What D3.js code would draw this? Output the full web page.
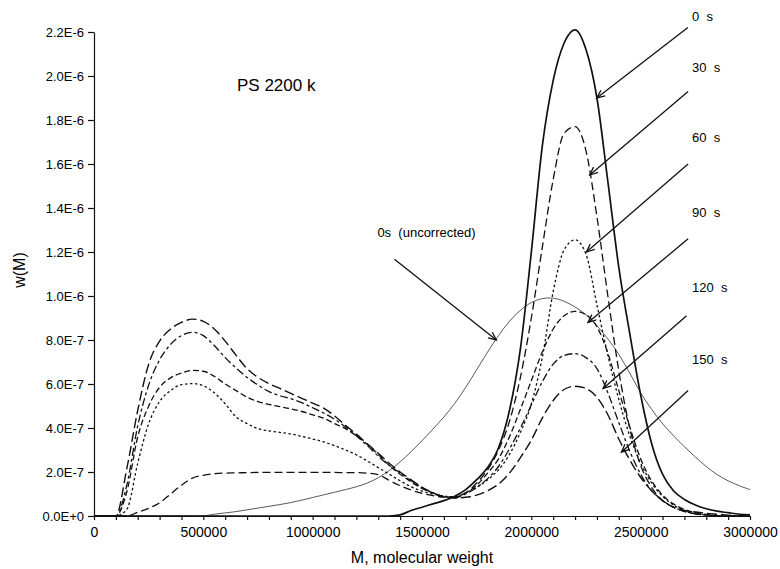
<!DOCTYPE html>
<html>
<head>
<meta charset="utf-8">
<script src="https://cdn.jsdelivr.net/npm/d3@7"></script>
<style>
  html, body { margin: 0; padding: 0; background: #fff; }
  svg text { font-family: "Liberation Sans", Arial, Helvetica, sans-serif; fill: #000; }
</style>
</head>
<body>
<svg id="chart" width="780" height="569"></svg>
<script>
// ---------------- DATA (w values in units of 1e-7) ----------------
const mGrid = [0,50000,100000,150000,200000,250000,300000,350000,400000,450000,
  500000,550000,600000,650000,700000,750000,800000,850000,900000,950000,
  1000000,1050000,1100000,1150000,1200000,1250000,1300000,1350000,1400000,1450000,
  1500000,1550000,1600000,1650000,1700000,1750000,1800000,1850000,1900000,1950000,
  2000000,2050000,2100000,2150000,2200000,2250000,2300000,2350000,2400000,2450000,
  2500000,2550000,2600000,2650000,2700000,2750000,2800000,2850000,2900000,2950000,3000000];

const w0s = [0,0,0,0,0,0,0,0,0,0, 0,0,0,0,0,0,0,0,0,0, 0,0,0,0,0,0,0,0,0.05,0.25,
  0.4,0.55,0.7,0.9,1.2,1.65,2.2,3.1,4.8,7.6, 12.0,16.8,19.8,21.5,22.1,21.2,19.0,15.2,11.3,8.3,
  5.5,3.3,1.9,1.15,0.75,0.5,0.33,0.22,0.15,0.08,0.05];
const w30s = [0,0,0,0,0.17,0.35,0.6,1.0,1.4,1.72, 1.85,1.92,1.95,1.96,1.97,1.98,1.98,1.98,1.98,1.98,
  1.98,1.98,1.98,1.97,1.97,1.95,1.88,1.62,1.38,1.18, 1.03,0.93,0.86,0.88,1.05,1.5,2.1,3.0,4.3,6.3,
  9.0,12.2,15.3,17.4,17.7,16.6,13.6,10.0,6.6,4.0, 2.3,1.3,0.7,0.4,0.2,0.1,0.05,0,0,0,0];
const w60s = [0,0,0,0.3,2.4,4.2,5.2,5.7,5.97,6.02, 5.92,5.6,5.1,4.5,4.2,3.97,3.87,3.8,3.73,3.62,
  3.5,3.37,3.2,3.0,2.78,2.5,2.2,1.9,1.6,1.33, 1.13,1.0,0.9,0.88,1.05,1.3,1.65,2.1,2.8,3.8,
  5.1,7.2,10.2,12.1,12.55,11.9,9.6,7.3,5.3,3.65, 2.4,1.5,0.9,0.5,0.25,0.12,0.05,0,0,0,0];
const w90s = [0,0,0,1.1,3.6,5.0,5.85,6.28,6.5,6.62, 6.58,6.35,6.0,5.7,5.4,5.2,5.07,4.97,4.87,4.75,
  4.6,4.45,4.2,3.97,3.65,3.25,2.8,2.3,1.9,1.55, 1.25,1.05,0.88,0.85,1.05,1.4,1.95,2.6,3.6,4.85,
  6.15,7.45,8.5,9.1,9.3,9.15,8.6,7.4,5.7,4.05, 2.6,1.6,0.95,0.55,0.3,0.15,0.07,0,0,0,0];
const w120s = [0,0,0,1.4,4.1,5.95,7.1,7.8,8.2,8.35, 8.2,7.75,7.2,6.72,6.3,5.95,5.65,5.47,5.33,5.15,
  4.92,4.68,4.4,4.05,3.65,3.2,2.72,2.3,1.95,1.6, 1.3,1.05,0.88,0.82,1.0,1.3,1.7,2.25,3.05,4.0,
  5.05,6.1,6.9,7.3,7.38,7.2,6.7,5.6,4.25,2.95, 1.9,1.15,0.7,0.4,0.22,0.1,0.05,0,0,0,0];
const w150s = [0,0,0,2.15,4.8,6.9,7.95,8.5,8.8,8.95, 8.85,8.5,7.95,7.3,6.7,6.3,6.02,5.8,5.57,5.35,
  5.13,4.9,4.55,4.12,3.72,3.28,2.85,2.4,2.0,1.65, 1.3,1.05,0.88,0.82,0.85,0.95,1.15,1.45,1.95,2.65,
  3.45,4.45,5.25,5.75,5.9,5.8,5.4,4.6,3.5,2.55, 1.75,1.15,0.7,0.4,0.25,0.18,0.12,0.08,0.04,0,0];
const w0sUncorrected = [0,0,0,0,0,0,0,0,0,0, 0,0.08,0.14,0.2,0.28,0.36,0.44,0.52,0.61,0.72,
  0.84,0.96,1.08,1.2,1.33,1.5,1.74,2.06,2.46,2.92, 3.42,3.95,4.5,5.12,5.85,6.65,7.45,8.2,8.85,9.35,
  9.7,9.88,9.9,9.76,9.5,9.15,8.65,8.05,7.35,6.5, 5.6,4.85,4.2,3.65,3.15,2.68,2.25,1.88,1.6,1.38,1.2];

const xTicks = [0,500000,1000000,1500000,2000000,2500000,3000000];
const xMinorTicks = [0,100000,200000,300000,400000,500000,600000,700000,800000,900000,1000000,
  1100000,1200000,1300000,1400000,1500000,1600000,1700000,1800000,1900000,2000000,
  2100000,2200000,2300000,2400000,2500000,2600000,2700000,2800000,2900000,3000000];
const yTicks = [0,2e-7,4e-7,6e-7,8e-7,1.0e-6,1.2e-6,1.4e-6,1.6e-6,1.8e-6,2.0e-6,2.2e-6];

// time labels and arrows (data coordinates; w in units of 1e-7)
const timeLabels = ["0 s","30 s","60 s","90 s","120 s","150 s"];
const labelM = [2735000,2735000,2735000,2735000,2735000,2735000];
const labelW = [22.5,20.2,17.0,13.6,10.2,6.9];
const arrowFromM = [2716000,2717000,2717000,2717000,2710000,2717000];
const arrowFromW = [22.2,19.3,16.0,12.6,9.1,5.7];
const arrowToM = [2299000,2267000,2252000,2259000,2328000,2412000];
const arrowToW = [19.0,15.5,12.0,8.8,5.8,2.9];

// ---------------- CHART ----------------
const svg = d3.select("#chart");
const x = d3.scaleLinear().domain([0, 3000000]).range([94, 750]);
const y = d3.scaleLinear().domain([0, 2.2e-6]).range([516, 32]);
const E7 = 1e-7;

svg.append("defs").append("marker")
  .attr("id", "arr").attr("viewBox", "-10 -6 12 12")
  .attr("refX", 0).attr("refY", 0)
  .attr("markerWidth", 12).attr("markerHeight", 12)
  .attr("markerUnits", "userSpaceOnUse")
  .attr("orient", "auto")
  .append("path").attr("d", "M-8,-3.5 L0,0 L-8,3.5")
  .attr("fill", "none").attr("stroke", "#111").attr("stroke-width", 1.3);

// axes
const xAxis = d3.axisBottom(x).tickValues(xMinorTicks).tickSize(4).tickSizeOuter(0).tickPadding(7)
  .tickFormat(d => xTicks.includes(d) ? String(d) : "");
const gx = svg.append("g").attr("transform", "translate(0,516)").call(xAxis);
gx.selectAll("text").attr("font-size", 14);

const yAxis = d3.axisLeft(y).tickValues(yTicks).tickSize(6).tickSizeOuter(0).tickPadding(4)
  .tickFormat(d => d3.format(".1e")(d).toUpperCase());
const gy = svg.append("g").attr("transform", "translate(94,0)").call(yAxis);
gy.selectAll("text").attr("font-size", 13);
svg.selectAll(".domain, .tick line").attr("stroke", "#111").attr("stroke-width", 1.2);

// axis titles
svg.append("text").attr("x", 422).attr("y", 563).attr("text-anchor", "middle")
  .attr("font-size", 16).text("M, molecular weight");
svg.append("text").attr("transform", "translate(25,270) rotate(-90)").attr("text-anchor", "middle")
  .attr("font-size", 16).text("w(M)");

// curves
const series = [
  {vals: w0sUncorrected, width: 0.7, dash: null, smooth: true},
  {vals: w150s, width: 1.4, dash: "10,4"},
  {vals: w120s, width: 1.3, dash: "8,3,3,3"},
  {vals: w90s, width: 1.3, dash: "6,3"},
  {vals: w60s, width: 1.3, dash: "2.5,2.5"},
  {vals: w30s, width: 1.3, dash: "8,4"},
  {vals: w0s, width: 1.7, dash: null}
];
const lineM = d3.line().curve(d3.curveMonotoneX)
  .x((d, i) => x(mGrid[i])).y(d => y(d * E7));
const lineC = d3.line().curve(d3.curveCatmullRom.alpha(0.5))
  .x((d, i) => x(mGrid[i])).y(d => y(d * E7));
series.forEach(s => {
  svg.append("path").datum(s.vals).attr("d", s.smooth ? lineC : lineM)
    .attr("fill", "none").attr("stroke", "#111")
    .attr("stroke-width", s.width)
    .attr("stroke-dasharray", s.dash);
});

// arrows and labels
timeLabels.forEach((t, i) => {
  svg.append("line")
    .attr("x1", x(arrowFromM[i])).attr("y1", y(arrowFromW[i] * E7))
    .attr("x2", x(arrowToM[i])).attr("y2", y(arrowToW[i] * E7))
    .attr("stroke", "#111").attr("stroke-width", 1.3).attr("marker-end", "url(#arr)");
  svg.append("text").attr("x", x(labelM[i])).attr("y", y(labelW[i] * E7))
    .attr("font-size", 13).style("white-space", "pre").text(t.replace(" ", "  "));
});

// uncorrected annotation
svg.append("line")
  .attr("x1", x(1374000)).attr("y1", y(11.67 * E7))
  .attr("x2", x(1840000)).attr("y2", y(8.0 * E7))
  .attr("stroke", "#111").attr("stroke-width", 1.3).attr("marker-end", "url(#arr)");
svg.append("text").attr("x", x(1296000)).attr("y", y(12.68 * E7))
  .attr("font-size", 13).style("white-space", "pre").text("0s  (uncorrected)");

svg.append("text").attr("x", x(654000)).attr("y", y(19.3 * E7))
  .attr("font-size", 17).text("PS 2200 k");
</script>
</body>
</html>
